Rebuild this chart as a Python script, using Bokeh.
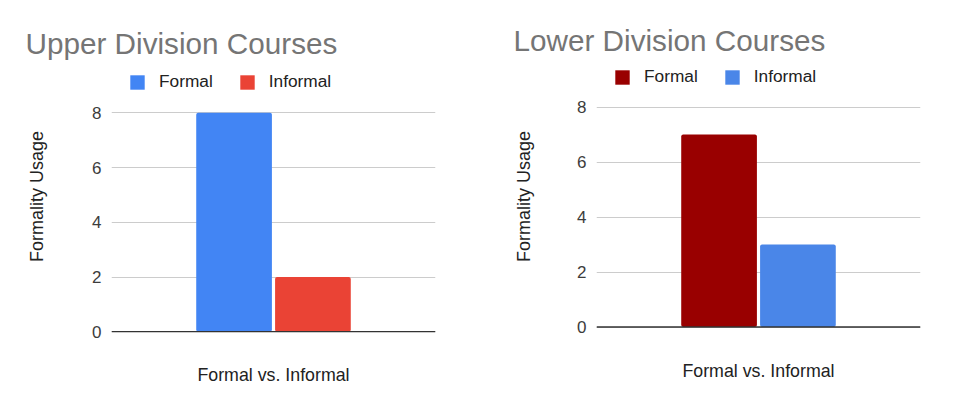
from bokeh.plotting import figure
from bokeh.models import FactorRange, Range1d, Legend, LegendItem, FixedTicker, ColumnDataSource, Span
from bokeh.transform import dodge
from bokeh.layouts import row
from bokeh.embed import file_html
from bokeh.resources import INLINE

# ---- data ----
series_names = ["Formal", "Informal"]
group_label = "Formal vs. Informal"
y_label = "Formality Usage"
y_ticks = [0, 2, 4, 6, 8]

upper_title = "Upper Division Courses"
upper_values = [8, 2]
upper_colors = ["#4285F4", "#EA4335"]

lower_title = "Lower Division Courses"
lower_values = [7, 3]
lower_colors = ["#990000", "#4A86E8"]

FONT = "Liberation Sans"


def make_chart(title, values, colors, br, px_per_unit, zero_px, title_x, title_standoff,
               legend_x, legend_y, ylab_standoff, xlab_standoff):
    frame_h = 272
    p = figure(
        x_range=FactorRange(factors=[group_label]),
        y_range=Range1d(-zero_px / px_per_unit, (frame_h - zero_px) / px_per_unit),
        frame_width=324, frame_height=frame_h,
        min_border_left=111, min_border_top=60, min_border_bottom=58, min_border_right=br,
        output_backend="svg", toolbar_location=None, title=title,
    )
    p.outline_line_color = None
    p.background_fill_color = "white"
    p.border_fill_color = "white"

    p.title.align = "left"
    p.title.offset = title_x
    p.title.standoff = title_standoff
    p.title.text_font = FONT
    p.title.text_font_size = "29.7px"
    p.title.text_font_style = "normal"
    p.title.text_color = "#757575"

    offsets = [-0.1217, 0.1217]
    items = []
    for i, (name, val, color) in enumerate(zip(series_names, values, colors)):
        src = ColumnDataSource(dict(group=[group_label], value=[val]))
        r = p.vbar(x=dodge("group", offsets[i], range=p.x_range), top="value", width=0.2336,
                   source=src, fill_color=color, line_color=None, border_radius=2)
        items.append(LegendItem(label=name, renderers=[r]))

    # grid
    p.xgrid.visible = False
    p.ygrid.grid_line_color = "#cccccc"
    p.ygrid.grid_line_width = 1
    p.ygrid.ticker = FixedTicker(ticks=y_ticks)

    # baseline at zero
    p.add_layout(Span(location=y_ticks[0], dimension="width", line_color="#333333", line_width=1.5))

    # y axis (bounded to the tick span so its title is centred on 0-8)
    ya = p.yaxis[0]
    ya.ticker = FixedTicker(ticks=y_ticks)
    ya.bounds = (y_ticks[0], y_ticks[-1])
    ya.axis_line_color = None
    ya.major_tick_line_color = None
    ya.minor_tick_line_color = None
    ya.major_tick_out = 0
    ya.major_tick_in = 0
    ya.major_label_standoff = 10
    ya.major_label_text_font = FONT
    ya.major_label_text_font_size = "17px"
    ya.major_label_text_color = "#3c3c3c"
    ya.axis_label = y_label
    ya.axis_label_text_font = FONT
    ya.axis_label_text_font_size = "18px"
    ya.axis_label_text_font_style = "normal"
    ya.axis_label_text_color = "#222222"
    ya.axis_label_standoff = ylab_standoff

    # x axis
    xa = p.xaxis[0]
    xa.axis_line_color = None
    xa.major_tick_line_color = None
    xa.minor_tick_line_color = None
    xa.major_tick_out = 0
    xa.major_tick_in = 0
    xa.major_label_standoff = xlab_standoff
    xa.major_label_text_font = FONT
    xa.major_label_text_font_size = "17.8px"
    xa.major_label_text_color = "#222222"

    legend = Legend(items=items, location=(legend_x, legend_y), orientation="horizontal",
                    glyph_width=18, glyph_height=18, label_height=18, label_standoff=13,
                    spacing=25, padding=0, margin=0,
                    label_text_font=FONT, label_text_font_size="17.3px", label_text_color="#222222",
                    border_line_alpha=0, background_fill_alpha=0)
    p.add_layout(legend, "center")
    return p


left = make_chart(upper_title, upper_values, upper_colors, 50, 27.375, 0.7, -86, 1,
                  17, 240, 42, 32)
right = make_chart(lower_title, lower_values, lower_colors, 45, 27.5, 5.5, -83, 7,
                   17, 245, 40, 28)

layout = row(left, right)
open("out.html", "w").write(file_html(layout, INLINE))
